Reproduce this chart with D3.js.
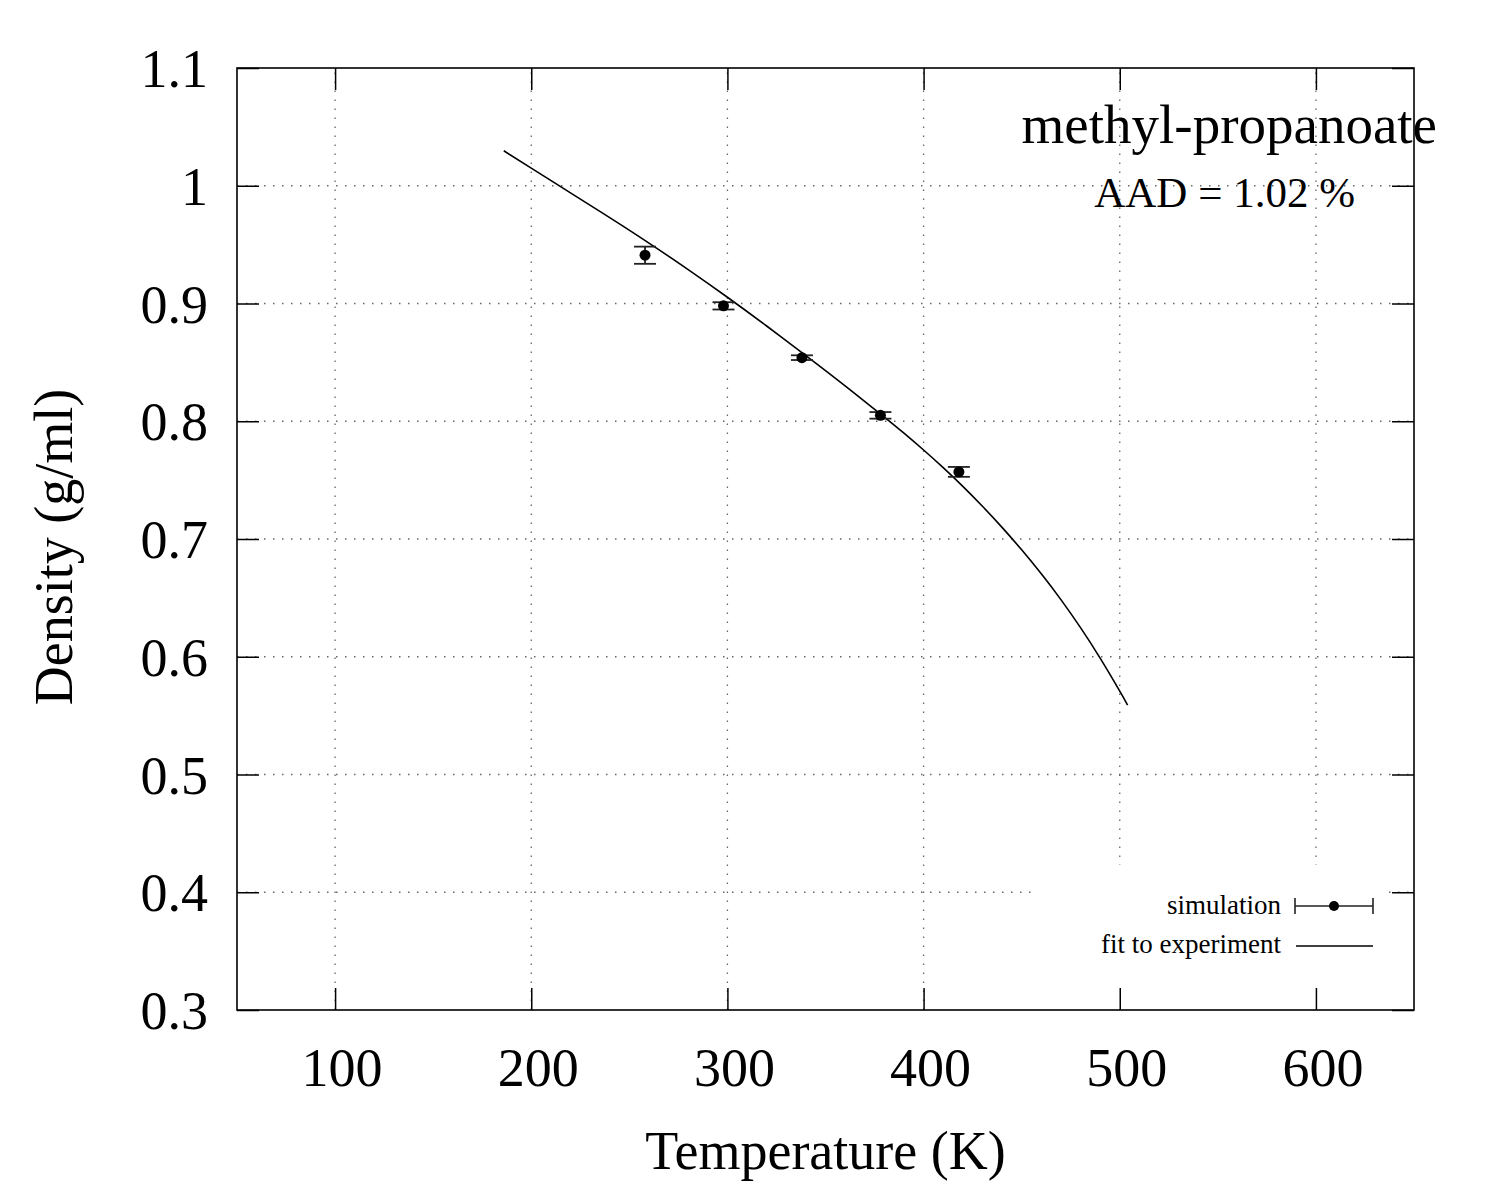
<!DOCTYPE html>
<html lang="en">
<head>
<meta charset="utf-8">
<title>methyl-propanoate density</title>
<script src="https://cdn.jsdelivr.net/npm/d3@7"></script>
<style>
  body { margin: 0; background: #fff; }
  text { font-family: "Liberation Serif", "DejaVu Serif", serif; fill: #000; }
</style>
</head>
<body>
<script>
// simulation points
var simT = [258, 298, 338, 378, 418];
var simRho = [0.941, 0.898, 0.854, 0.805, 0.757];
var simErr = [0.0073, 0.0031, 0.0020, 0.0028, 0.0042];

// fit to experiment
var fitT = [186, 200, 220, 240, 260, 280, 300, 320, 340, 360, 380, 390, 400, 410, 420, 430, 440, 450, 460, 470, 480, 490, 500, 504];
var fitRho = [1.0297, 1.015, 0.994, 0.9729, 0.9513, 0.9288, 0.9053, 0.8809, 0.8558, 0.8301, 0.8036, 0.7899, 0.7756, 0.7606, 0.7447, 0.7278, 0.7099, 0.6908, 0.6704, 0.6485, 0.6247, 0.5988, 0.5708, 0.559];

var xTicks = [100, 200, 300, 400, 500, 600];
var yTicks = [0.3, 0.4, 0.5, 0.6, 0.7, 0.8, 0.9, 1.0, 1.1];

var w = 1500, h = 1200;
var pLeft = 237, pRight = 1414, pTop = 68, pBottom = 1010;

var svg = d3.select("body").append("svg")
  .attr("width", w).attr("height", h);

var x = d3.scaleLinear().domain([50, 650]).range([pLeft, pRight]);
var y = d3.scaleLinear().domain([0.3, 1.1]).range([pBottom, pTop]);

// grid
var grid = svg.append("g")
  .attr("stroke", "#666").attr("stroke-width", 1.3)
  .attr("stroke-dasharray", "1.5,7.5");
grid.selectAll("line.gx").data(xTicks).enter().append("line")
  .attr("x1", function(d) { return x(d); }).attr("x2", function(d) { return x(d); })
  .attr("y1", pBottom).attr("y2", pTop);
grid.selectAll("line.gy").data(yTicks.slice(1, -1)).enter().append("line")
  .attr("x1", pLeft).attr("x2", pRight)
  .attr("y1", function(d) { return y(d); }).attr("y2", function(d) { return y(d); });

// legend box hides grid
svg.append("rect")
  .attr("x", 1036).attr("y", 865).attr("width", 352).attr("height", 144)
  .attr("fill", "#fff");

// axes with ticks on all sides
var tl = 22;
svg.append("g").attr("transform", "translate(0," + pBottom + ")")
  .call(d3.axisBottom(x).tickValues(xTicks).tickSize(-tl).tickFormat(""));
svg.append("g").attr("transform", "translate(0," + pTop + ")")
  .call(d3.axisTop(x).tickValues(xTicks).tickSize(-tl).tickFormat(""));
svg.append("g").attr("transform", "translate(" + pLeft + ",0)")
  .call(d3.axisLeft(y).tickValues(yTicks).tickSize(-tl).tickFormat(""));
svg.append("g").attr("transform", "translate(" + pRight + ",0)")
  .call(d3.axisRight(y).tickValues(yTicks).tickSize(-tl).tickFormat(""));
svg.selectAll(".domain").remove();
svg.selectAll(".tick line").attr("stroke", "#000").attr("stroke-width", 1.5);

svg.append("rect")
  .attr("x", pLeft).attr("y", pTop)
  .attr("width", pRight - pLeft).attr("height", pBottom - pTop)
  .attr("fill", "none").attr("stroke", "#000").attr("stroke-width", 1.6);

// tick labels
svg.selectAll("text.xl").data(xTicks).enter().append("text")
  .attr("x", function(d) { return x(d) + 7; })
  .attr("y", 1086)
  .attr("text-anchor", "middle")
  .attr("font-size", "54px")
  .text(function(d) { return d; });
svg.selectAll("text.yl").data(yTicks).enter().append("text")
  .attr("x", 208)
  .attr("y", function(d) { return y(d) + 19; })
  .attr("text-anchor", "end")
  .attr("font-size", "54px")
  .text(function(d) { return d === 1 ? "1" : d3.format(".1f")(d); });

// axis titles
svg.append("text")
  .attr("x", (pLeft + pRight) / 2).attr("y", 1169)
  .attr("text-anchor", "middle").attr("font-size", "54px")
  .text("Temperature (K)");
svg.append("text")
  .attr("transform", "translate(72,547) rotate(-90)")
  .attr("text-anchor", "middle").attr("font-size", "54px")
  .text("Density (g/ml)");

// fit curve
var fit = fitT.map(function(t, i) { return [t, fitRho[i]]; });
svg.append("path")
  .datum(fit)
  .attr("fill", "none").attr("stroke", "#000").attr("stroke-width", 1.6)
  .attr("d", d3.line()
    .x(function(d) { return x(d[0]); })
    .y(function(d) { return y(d[1]); })
    .curve(d3.curveNatural));

// simulation points with error bars
var sim = simT.map(function(t, i) { return { t: t, r: simRho[i], e: simErr[i] }; });
var eb = svg.append("g").attr("stroke", "#222").attr("stroke-width", 1.8);
eb.selectAll("line.v").data(sim).enter().append("line")
  .attr("x1", function(d) { return x(d.t); }).attr("x2", function(d) { return x(d.t); })
  .attr("y1", function(d) { return y(d.r - d.e); }).attr("y2", function(d) { return y(d.r + d.e); });
eb.selectAll("line.t").data(sim).enter().append("line")
  .attr("x1", function(d) { return x(d.t) - 11; }).attr("x2", function(d) { return x(d.t) + 11; })
  .attr("y1", function(d) { return y(d.r + d.e); }).attr("y2", function(d) { return y(d.r + d.e); });
eb.selectAll("line.b").data(sim).enter().append("line")
  .attr("x1", function(d) { return x(d.t) - 11; }).attr("x2", function(d) { return x(d.t) + 11; })
  .attr("y1", function(d) { return y(d.r - d.e); }).attr("y2", function(d) { return y(d.r - d.e); });
svg.selectAll("circle.pt").data(sim).enter().append("circle")
  .attr("cx", function(d) { return x(d.t); })
  .attr("cy", function(d) { return y(d.r); })
  .attr("r", 5.5).attr("fill", "#000");

// labels
svg.append("text")
  .attr("x", 1437).attr("y", 143)
  .attr("text-anchor", "end").attr("font-size", "55px")
  .text("methyl-propanoate");
svg.append("text")
  .attr("x", 1355).attr("y", 207)
  .attr("text-anchor", "end").attr("font-size", "43px")
  .text("AAD = 1.02 %");

// legend
svg.append("text")
  .attr("x", 1281).attr("y", 914)
  .attr("text-anchor", "end").attr("font-size", "27px")
  .text("simulation");
svg.append("text")
  .attr("x", 1281).attr("y", 953)
  .attr("text-anchor", "end").attr("font-size", "27px")
  .text("fit to experiment");
var lg = svg.append("g").attr("stroke", "#222").attr("stroke-width", 1.6);
lg.append("line").attr("x1", 1295).attr("x2", 1373).attr("y1", 906).attr("y2", 906);
lg.append("line").attr("x1", 1295).attr("x2", 1295).attr("y1", 898).attr("y2", 914);
lg.append("line").attr("x1", 1373).attr("x2", 1373).attr("y1", 898).attr("y2", 914);
svg.append("circle").attr("cx", 1334).attr("cy", 906).attr("r", 5).attr("fill", "#000");
svg.append("line").attr("x1", 1296).attr("x2", 1373).attr("y1", 946).attr("y2", 946)
  .attr("stroke", "#000").attr("stroke-width", 1.6);
</script>
</body>
</html>
